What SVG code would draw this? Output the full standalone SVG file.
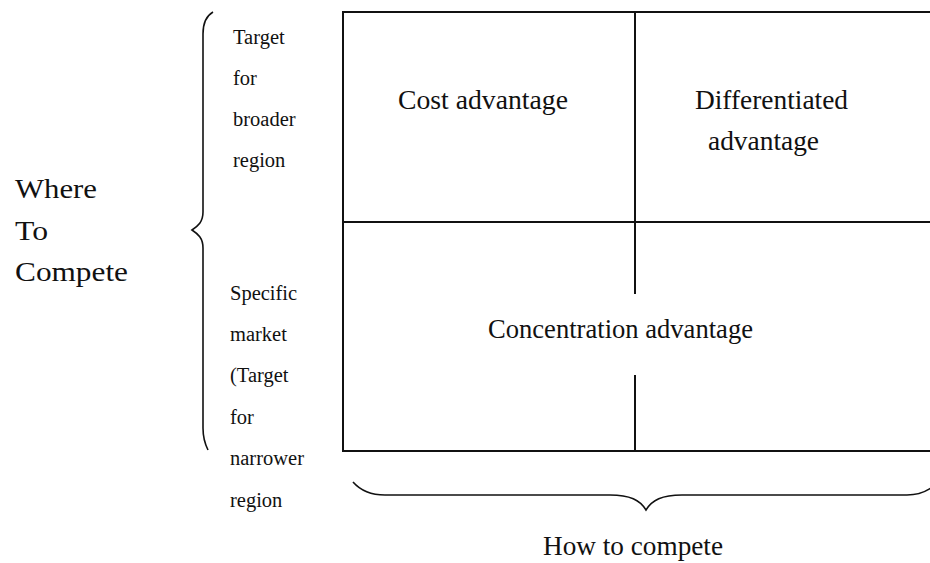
<svg xmlns="http://www.w3.org/2000/svg" width="930" height="563" viewBox="0 0 930 563">
<style>
.ln{stroke:#111;stroke-width:2;fill:none}
.br{stroke:#111;stroke-width:1.6;fill:none}
text{font-family:'Liberation Serif','Times New Roman',serif;fill:#111}
.big{font-size:27px}
.sm{font-size:20.5px}
</style>
<rect width="930" height="563" fill="#fff"/>
<g id="grid">
<path class="ln" d="M343 12 H931 M343 222 H931 M343 451 H931 M343 11 V452 M635 12 V294 M635 375 V451"/>
</g>
<g id="cost"><text class="big" x="398" y="109" textLength="170" lengthAdjust="spacingAndGlyphs">Cost advantage</text></g>
<g id="diff"><text class="big" x="695" y="109" textLength="153" lengthAdjust="spacingAndGlyphs">Differentiated</text><text class="big" x="708" y="150" textLength="111" lengthAdjust="spacingAndGlyphs">advantage</text></g>
<g id="conc"><text class="big" x="488" y="338" textLength="265" lengthAdjust="spacingAndGlyphs">Concentration advantage</text></g>
<g id="where"><text class="big" x="15" y="198" textLength="82" lengthAdjust="spacingAndGlyphs">Where</text><text class="big" x="15" y="240" textLength="33" lengthAdjust="spacingAndGlyphs">To</text><text class="big" x="15" y="281" textLength="113" lengthAdjust="spacingAndGlyphs">Compete</text></g>
<g id="broad"><text class="sm" x="233" y="44">Target</text><text class="sm" x="233" y="85">for</text><text class="sm" x="233" y="126">broader</text><text class="sm" x="233" y="167">region</text></g>
<g id="narrow"><text class="sm" x="230" y="300">Specific</text><text class="sm" x="230" y="341">market</text><text class="sm" x="230" y="382">(Target</text><text class="sm" x="230" y="424">for</text><text class="sm" x="230" y="465">narrower</text><text class="sm" x="230" y="507">region</text></g>
<g id="how"><text class="big" x="543" y="555" textLength="180" lengthAdjust="spacingAndGlyphs">How to compete</text></g>
<g id="connectors">
<path class="br" d="M213 12 C206 16 203 24 203 34 L203 212 C203 222 198 226 192 230 C198 234 203 238 203 248 L203 428 C203 438 205 444 208 450"/>
<path class="br" d="M353 482 C360 490 370 495 385 495 L610 495 C630 495 640 500 646 510 C652 500 662 495 682 495 L907 495 C918 495 925 492 931 488"/>
</g>
</svg>
